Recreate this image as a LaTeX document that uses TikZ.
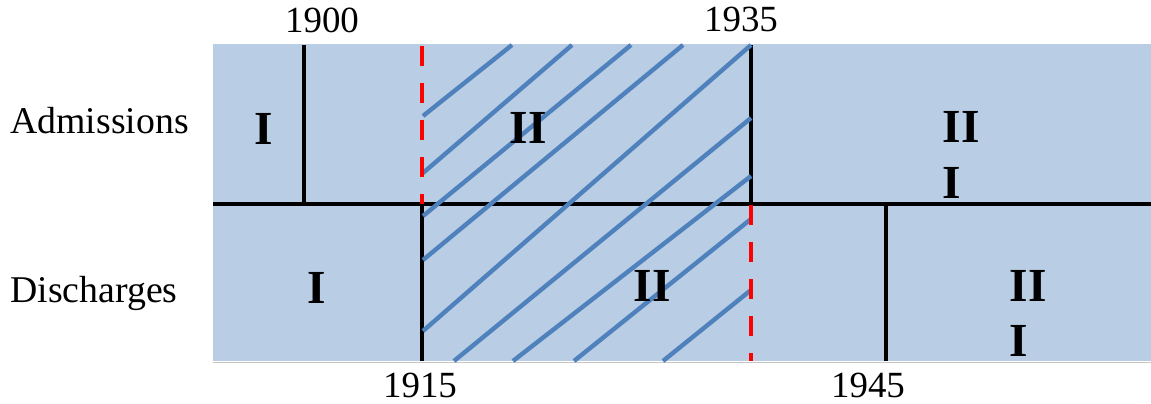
\documentclass[tikz,border=0pt]{standalone}
\usepackage{fontspec}
\setmainfont{Liberation Serif}
\usepackage{tikz}
\usetikzlibrary{arrows.meta, positioning, calc}
\usepackage{xcolor}
\definecolor{panelblue}{RGB}{185,205,228}
\definecolor{hatchblue}{RGB}{79,129,189}

\tikzset{
  yearlabel/.style={anchor=base, font=\fontsize{21}{25}\selectfont},
  rowlabel/.style={anchor=base west, inner sep=0pt, font=\fontsize{21.5}{25}\selectfont},
  phase/.style={anchor=base, font=\fontsize{27}{32}\selectfont\bfseries},
  divider/.style={black, line width=2.3pt},
  cutoff/.style={red, line width=2.3pt, dash pattern=on 0.4cm off 0.34cm},
  hatch/.style={hatchblue, line width=2.5pt}
}

\begin{document}
\begin{tikzpicture}[>=Stealth, x=0.02cm, y=-0.02cm]
  \useasboundingbox (0,0) rectangle (1151,404);
  % Background panel
  \fill[panelblue] (213,44) rectangle (1151,361);
  \draw[gray!45, line width=1pt] (213,362.5) -- (1151,362.5);
  % Row labels
  \node[rowlabel] (adm) at (10,134) {Admissions};
  \node[rowlabel] (dis) at (10,303) {Discharges};
  % Year labels
  \node[yearlabel] (y1900) at (322,33) {1900};
  \node[yearlabel] (y1935) at (741,32) {1935};
  \node[yearlabel] (y1915) at (420,398) {1915};
  \node[yearlabel] (y1945) at (868,398) {1945};
  % Middle line and solid dividers
  \draw[divider] (213,204) -- (1151,204);
  \draw[divider] (304,45) -- (304,204);
  \draw[divider] (751,45) -- (751,204);
  \draw[divider] (422,204) -- (422,361);
  \draw[divider] (886,204) -- (886,361);
  % Hatched band
  \foreach \xa/\ya/\xb/\yb in {423/116/512/45, 423/173/572/45, 423/216/631/45,
      423/260/683/45, 423/331/751/45, 454/361/751/118, 513/361/751/176,
      574/361/751/219, 663/361/751/290}{
    \draw[hatch] (\xa,\ya) -- (\xb,\yb);
  }
  % Dashed cut-offs
  \draw[cutoff] (422,46) -- (422,204);
  \draw[cutoff] (751,205) -- (751,361);
  % Phase numerals
  \node[phase] (a1) at (264,145) {I};
  \node[phase] (a2) at (528,144) {II};
  \node[phase] (a3) at (961,143) {II};
  \node[phase] (a4) at (952,199) {I};
  \node[phase] (d1) at (317,304) {I};
  \node[phase] (d2) at (652,302) {II};
  \node[phase] (d3) at (1028,302) {II};
  \node[phase] (d4) at (1019,357) {I};
\end{tikzpicture}
\end{document}
